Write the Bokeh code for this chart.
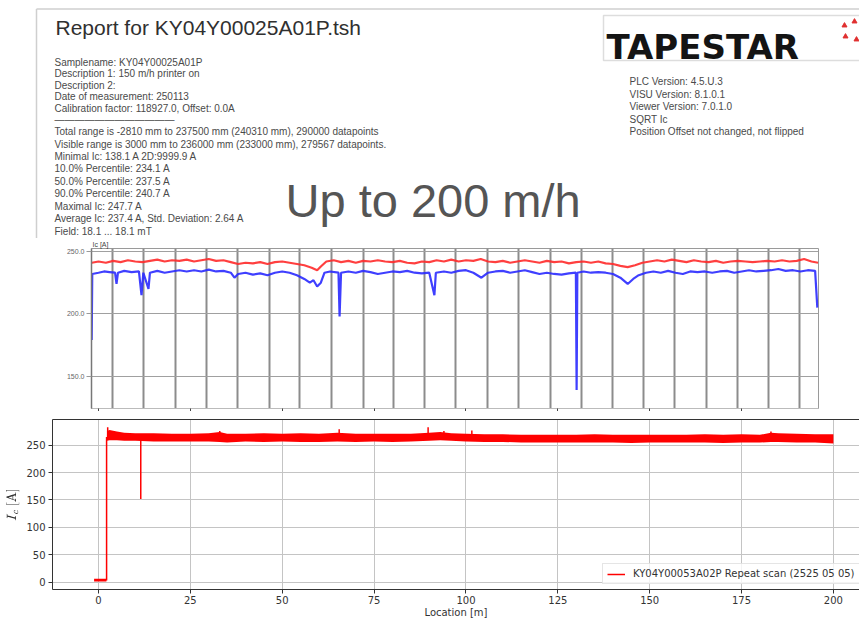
import numpy as np
from bokeh.plotting import figure
from bokeh.layouts import column
from bokeh.models import (Range1d, FixedTicker, NumeralTickFormatter, LinearAxis,
                          Legend, LegendItem)
from bokeh.core.properties import value
from bokeh.embed import file_html
from bokeh.resources import INLINE

# ---------------- header texts ----------------
report_title = "Report for KY04Y00025A01P.tsh"
info_lines = [
    "Samplename: KY04Y00025A01P",
    "Description 1: 150 m/h printer on",
    "Description 2:",
    "Date of measurement: 250113",
    "Calibration factor: 118927.0, Offset: 0.0A",
    "\u2014" * 12,
    "Total range is -2810 mm to 237500 mm (240310 mm), 290000 datapoints",
    "Visible range is 3000 mm to 236000 mm (233000 mm), 279567 datapoints.",
    "Minimal Ic: 138.1 A 2D:9999.9 A",
    "10.0% Percentile: 234.1 A",
    "50.0% Percentile: 237.5 A",
    "90.0% Percentile: 240.7 A",
    "Maximal Ic: 247.7 A",
    "Average Ic: 237.4 A, Std. Deviation: 2.64 A",
    "Field: 18.1 ... 18.1 mT",
]
info_y = [62, 73, 84.5, 96, 107.5, 119, 131, 143.5, 156, 168, 181, 193, 206, 218, 231]
version_lines = [
    "PLC Version: 4.5.U.3",
    "VISU Version: 8.1.0.1",
    "Viewer Version: 7.0.1.0",
    "SQRT Ic",
    "Position Offset not changed, not flipped",
]
version_y = [81, 93.5, 106, 118.5, 131]
logo_text = "TAPESTAR"
overlay_text = "Up to 200 m/h"

# ---------------- report chart (screenshot) data ----------------
rep_red_x = [-1.8, 0, 2, 4, 6, 8, 10, 12, 14, 16, 18, 20, 22, 24, 26, 28, 30, 32, 34, 36,
             38, 40, 42, 44, 46, 48, 50, 52, 54, 56, 58, 59.5, 60.5, 62, 64, 66, 68, 70,
             72, 74, 76, 78, 80, 82, 84, 86, 88, 90, 92, 94, 96, 98, 100, 102, 104, 106,
             108, 110, 112, 114, 116, 118, 120, 122, 124, 126, 128, 130, 132, 134, 136,
             138, 140, 142, 144, 146, 148, 150, 152, 154, 156, 158, 160, 162, 164, 166,
             168, 170, 172, 174, 176, 178, 180, 182, 184, 186, 188, 190, 192, 194, 195.8]
rep_red_y = [241, 242, 241, 242.5, 241.5, 243, 242, 241.5, 242.5, 243.5, 242, 243, 242.5,
             243.5, 242, 243, 244, 242.5, 243, 241.5, 240, 241, 240.5, 241.5, 240, 241.5,
             242, 241, 240, 239, 237, 235, 238, 242, 243, 241.5, 242.5, 241, 242.5, 242,
             243, 242, 241.5, 242.5, 241, 240.5, 242, 241.5, 243, 242, 243.5, 242, 243,
             242.5, 244, 242, 241.5, 242.5, 241, 242, 243, 242, 241, 242.5, 241.5, 242,
             240.5, 241.5, 242, 241, 242, 240.5, 240, 238.5, 237.5, 239, 241, 242, 243,
             242, 243.5, 242.5, 241.5, 243, 242, 241.5, 242.5, 241, 242, 242.5, 242,
             241.5, 242, 242.5, 242, 243, 242, 242.5, 244, 242, 241]
rep_blue_x = [-1.85, -1.7, 0, 1.5, 3, 4.5, 4.9, 5.3, 7, 9, 11, 11.7, 12.2, 13.6, 14.0, 16,
              18, 20, 22, 24, 26, 28, 30, 32, 34, 36, 37, 38, 40, 42, 44, 46, 48, 50, 52,
              54, 56, 57.5, 58.5, 59.5, 60.5, 61.5, 63, 65.3, 65.6, 66, 68, 70, 72, 74,
              76, 78, 80, 82, 84, 86, 88, 90, 91.4, 91.8, 94, 96, 98, 100, 102, 104.2,
              106, 108, 110, 112, 114, 116, 118, 120, 122, 124, 126, 128, 129.9, 130.1,
              130.3, 132, 134, 136, 138, 140, 142, 144, 145.5, 147, 149, 151, 153, 155,
              157, 159, 161, 163, 165, 167, 169, 171, 173, 175, 177, 179, 181, 183, 185,
              187, 189, 191, 193, 195, 195.6]
rep_blue_y = [179, 232, 233, 234, 233.5, 233, 224, 233, 234.5, 233.5, 234, 215, 233, 220,
              233, 234.5, 233, 234, 235, 234, 235, 234, 235.5, 234, 234.5, 233, 229, 232,
              233, 231.5, 232.5, 231, 233, 234, 233, 231, 228, 225, 227, 222, 225, 233,
              234, 233, 198, 233, 234, 233, 234.5, 233.5, 232, 233, 234, 233.5, 234.5,
              233, 232.5, 233, 215, 233, 234, 233, 234.5, 235, 233, 229, 233, 234, 234.5,
              233, 234, 235, 233.5, 232, 233, 232, 231.5, 232.5, 233, 139, 233, 234, 233,
              233.5, 233, 232, 229, 224, 228, 231, 233, 234, 233, 234.5, 233, 232, 234,
              233.5, 234, 233, 234, 234.5, 233, 234, 235, 234, 234.5, 235, 236, 234.5,
              235, 234, 235, 234.5, 205]
segment_marks = [3.8, 12.2, 21.0, 29.4, 37.8, 46.5, 54.7, 63.4, 72.1, 80.3, 88.7, 97.1,
                 105.9, 114.3, 123.0, 131.4, 139.9, 148.3, 156.7, 165.4, 173.9, 182.3, 190.7]
rep_yticks = [150, 200, 250]
x_ticks = [0, 25, 50, 75, 100, 125, 150, 175, 200]

# ---------------- repeat scan data ----------------
legend_label = "KY04Y00053A02P Repeat scan (2525 05 05)"
band_x = [-1.2, 2.15, 2.3, 3, 5, 7, 10, 15, 20, 25, 30, 33, 35, 40, 45, 50, 55, 60, 65,
          70, 75, 80, 85, 90, 93, 96, 100, 105, 110, 115, 120, 125, 130, 135, 140, 145,
          150, 155, 160, 165, 170, 175, 180, 183, 185, 190, 195, 200]
band_lo = [1, 1, 258, 259, 259, 258, 258, 257, 257, 257, 257, 256, 255, 257, 256, 257,
           256, 256, 257, 256, 257, 256, 257, 258, 259, 258, 257, 256, 256, 255, 255, 255,
           255, 255, 255, 254, 255, 255, 255, 255, 254, 255, 255, 256, 256, 255, 255, 253]
band_hi = [6, 6, 276, 278, 275, 273, 272, 272, 271, 271, 272, 274, 271, 271, 272, 271,
           272, 271, 273, 271, 271, 271, 271, 273, 274, 272, 271, 270, 270, 269, 269, 269,
           269, 270, 269, 269, 269, 269, 269, 270, 269, 270, 269, 273, 272, 271, 270, 270]
rise_x = [2.2, 2.2]
rise_y = [3, 265]
spike_x = [2.5, 11.5, 33.0, 65.5, 89.7, 94.0, 101.6, 183.0]
spike_y = [283, 152, 276, 279, 283, 276, 277, 275]
spike_base = 264
scan_yticks = [0, 50, 100, 150, 200, 250]

W = 859

# ================= header figure =================
hdr = figure(width=W, height=238, x_range=Range1d(0, 859), y_range=Range1d(238, 0),
             output_backend="svg", toolbar_location=None, min_border=0,
             x_axis_type=None, y_axis_type=None, frame_align=False)
hdr.grid.visible = False
hdr.outline_line_color = None
hdr.line([36, 859], [8.5, 8.5], line_color="#cfcfcf", line_width=1.5)
hdr.line([36, 36], [8.5, 238], line_color="#cfcfcf", line_width=1.5)
hdr.text(x=[55], y=[27], text=[report_title], text_font=value("Liberation Sans"),
         text_font_size="21px", text_baseline="middle", text_color="#303030")
hdr.text(x=[54] * len(info_lines), y=info_y, text=info_lines,
         text_font=value("Liberation Sans"), text_font_size="10px",
         text_baseline="middle", text_color="#4a4a4a")
hdr.text(x=[629] * len(version_lines), y=version_y, text=version_lines,
         text_font=value("Liberation Sans"), text_font_size="10px",
         text_baseline="middle", text_color="#4a4a4a")
hdr.quad(left=[603], right=[870], top=[15], bottom=[60], fill_color="white",
         line_color="#dddddd", line_width=1.5)
hdr.text(x=[606], y=[46], text=[logo_text], text_font=value("DejaVu Sans"),
         text_font_size="34px", text_font_style="bold", text_baseline="middle",
         text_color="#141414")
hdr.scatter(x=[844, 854, 845, 856], y=[25, 21, 36, 39], marker="triangle", size=5,
            color="#e03030")
hdr.text(x=[285], y=[200], text=[overlay_text], text_font=value("Liberation Sans"),
         text_font_size="47px", text_baseline="middle", text_color="#555555")

# ================= report chart figure =================
rep = figure(width=W, height=173, x_range=Range1d(-1.905, 195.92),
             y_range=Range1d(124.2, 252.4), output_backend="svg", toolbar_location=None,
             min_border_left=91, min_border_right=41, min_border_top=9,
             min_border_bottom=0, frame_align=False)
rep.title.text = "Ic [A]"
rep.title.text_font = "Liberation Sans"
rep.title.text_font_size = "7px"
rep.title.text_font_style = "normal"
rep.title.text_color = "#444444"
rep.title.align = "left"
rep.title.standoff = 1
rep.title.offset = 1
rep.yaxis.ticker = FixedTicker(ticks=rep_yticks)
rep.yaxis.formatter = NumeralTickFormatter(format="0.0")
rep.yaxis.major_label_text_font = "Liberation Sans"
rep.yaxis.major_label_text_font_size = "7px"
rep.yaxis.major_label_text_color = "#666666"
rep.yaxis.major_tick_out = 5
rep.yaxis.major_tick_in = 0
rep.yaxis.major_label_standoff = 2
rep.yaxis.minor_tick_line_color = None
rep.yaxis.major_tick_line_color = "#999999"
rep.yaxis.axis_line_color = "#777777"
rep.yaxis.axis_line_width = 1.5
rep.xaxis.ticker = FixedTicker(ticks=x_ticks)
rep.xaxis.major_label_overrides = {t: "" for t in x_ticks}
rep.xaxis.major_label_standoff = 0
rep.xaxis.major_tick_out = 3
rep.xaxis.major_tick_in = 0
rep.xaxis.minor_tick_line_color = None
rep.xaxis.major_tick_line_color = "#444444"
rep.xaxis.axis_line_color = "#bbbbbb"
rep.xgrid.ticker = FixedTicker(ticks=segment_marks)
rep.xgrid.grid_line_color = "#8c8c8c"
rep.xgrid.grid_line_width = 2
rep.ygrid.ticker = FixedTicker(ticks=rep_yticks)
rep.ygrid.grid_line_color = "#a0a0a0"
rep.ygrid.grid_line_width = 1
rep.outline_line_color = "#9a9a9a"
rep.line(rep_red_x, rep_red_y, line_color="#ff2a2a", line_width=2.2, line_alpha=0.9)
rep.line(rep_blue_x, rep_blue_y, line_color="#2a2aff", line_width=2.2, line_alpha=0.9)

# ================= repeat scan figure =================
scan = figure(width=W, height=209, x_range=Range1d(-12.52, 207.1),
              y_range=Range1d(-13.5, 297), output_backend="svg", toolbar_location=None,
              min_border_left=52, min_border_right=0, min_border_top=8,
              min_border_bottom=0, frame_align=False)
scan.outline_line_color = None
xax = scan.below[0]
yax = scan.left[0]
for ax in (xax, yax):
    ax.major_label_text_font = "DejaVu Sans"
    ax.major_label_text_font_size = "10px"
    ax.major_label_text_color = "#333333"
    ax.axis_label_text_font = "DejaVu Sans"
    ax.axis_label_text_font_size = "10px"
    ax.axis_label_text_font_style = "normal"
    ax.axis_label_text_color = "#333333"
    ax.major_tick_out = 4
    ax.major_tick_in = 0
    ax.minor_tick_line_color = None
    ax.major_tick_line_color = "#333333"
    ax.axis_line_color = "#333333"
xax.major_label_standoff = 2
xax.axis_label_standoff = 0
yax.major_label_standoff = 3
yax.axis_label_standoff = 4
xax.ticker = FixedTicker(ticks=x_ticks)
yax.ticker = FixedTicker(ticks=scan_yticks)
xax.axis_label = "Location [m]"
yax.axis_label = r"$$I_c\ [\mathrm{A}]$$"
scan.add_layout(LinearAxis(ticker=FixedTicker(ticks=[]), major_tick_line_color=None,
                           minor_tick_line_color=None, axis_line_color="#333333"),
                "above")
scan.xgrid.ticker = FixedTicker(ticks=x_ticks)
scan.ygrid.ticker = FixedTicker(ticks=scan_yticks)
scan.grid.grid_line_color = "#c4c4c4"
scan.grid.grid_line_width = 1

scan.varea(x=band_x, y1=band_lo, y2=band_hi, fill_color="#ff0000")
rise = scan.line(rise_x, rise_y, line_color="#ff0000", line_width=1.5)
scan.segment(x0=spike_x, y0=[spike_base] * len(spike_x), x1=spike_x, y1=spike_y,
             line_color="#ff0000", line_width=1.5)

legend = Legend(items=[LegendItem(label=legend_label, renderers=[rise])],
                location=(550, 5), label_text_font="DejaVu Sans",
                label_text_font_size="10px", label_text_color="#333333",
                glyph_width=18, glyph_height=10, label_standoff=8, padding=4,
                spacing=0, margin=0, border_line_color="#cccccc",
                background_fill_alpha=0.8)
scan.add_layout(legend)

layout = column(hdr, rep, scan, spacing=0)
open("out.html", "w").write(file_html(layout, INLINE))
